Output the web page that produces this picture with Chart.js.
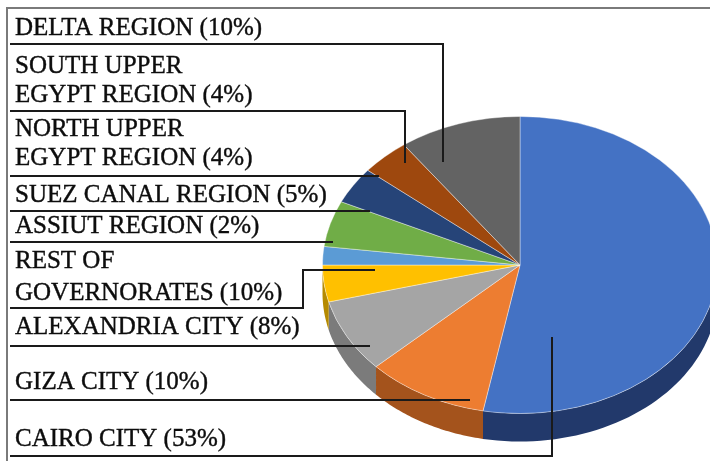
<!DOCTYPE html>
<html>
<head>
<meta charset="utf-8">
<script src="https://cdn.jsdelivr.net/npm/chart.js@4.4.0/dist/chart.umd.min.js"></script>
<style>
  html, body { margin: 0; padding: 0; background: #fff; overflow: hidden; }
  #wrap { position: relative; width: 730px; height: 470px; }
</style>
</head>
<body>
<div id="wrap"><canvas id="pie"></canvas></div>
<script>
// data, clockwise from 12 o'clock
const categories = [
  ["CAIRO CITY (53%)"],
  ["GIZA CITY (10%)"],
  ["ALEXANDRIA CITY (8%)"],
  ["REST OF", "GOVERNORATES (10%)"],
  ["ASSIUT REGION (2%)"],
  ["SUEZ CANAL REGION (5%)"],
  ["NORTH UPPER", "EGYPT REGION (4%)"],
  ["SOUTH UPPER", "EGYPT REGION (4%)"],
  ["DELTA REGION (10%)"]
];
const shares = [53, 10, 8, 4, 2, 5, 4, 4, 10];

const topColors = ["#4472C4", "#ED7D31", "#A5A5A5", "#FFC000", "#5B9BD5",
                   "#70AD47", "#264478", "#9E480E", "#636363"];
const sideColors = ["#22396b", "#a4531c", "#7b7b7b", "#b58a00", "#3f6f9b",
                    "#4f7a32", "#172b4d", "#6b2f08", "#444444"];

// label text baselines and leader paths (layout only)
const labelLayout = [
  { base: [446], path: [[10, 456], [552, 456], [552, 337]] },
  { base: [389], path: [[10, 400], [470, 400]] },
  { base: [334], path: [[10, 346], [370, 346]] },
  { base: [268, 300], path: [[10, 308], [303, 308], [303, 270], [375, 270]] },
  { base: [233], path: [[10, 242], [333, 242]] },
  { base: [202], path: [[10, 211], [370, 211]] },
  { base: [136, 165], path: [[10, 176], [379, 176]] },
  { base: [73, 102], path: [[10, 111], [405, 111], [405, 163]] },
  { base: [35], path: [[10, 44], [443, 44], [443, 162]] }
];

const tilt = 0.752;   // vertical squash of the pie
const depth = 28;     // thickness of the 3d side

const pie3d = {
  id: "pie3d",
  beforeDraw(chart) {
    const ctx = chart.ctx;
    ctx.save();
    ctx.strokeStyle = "#7a7a7a";
    ctx.lineWidth = 2;
    ctx.beginPath();
    ctx.moveTo(7, chart.height);
    ctx.lineTo(7, 8);
    ctx.lineTo(chart.width, 8);
    ctx.stroke();
    ctx.restore();
  },
  beforeDatasetsDraw(chart) {
    const ctx = chart.ctx;
    const arcs = chart.getDatasetMeta(0).data;
    ctx.save();
    arcs.forEach((arc, i) => {
      const cx = arc.x, cy = arc.y, r = arc.outerRadius;
      [[0, Math.PI], [2 * Math.PI, 3 * Math.PI]].forEach(([a, b]) => {
        const lo = Math.max(arc.startAngle, a), hi = Math.min(arc.endAngle, b);
        if (hi <= lo) return;
        const n = 48;
        ctx.beginPath();
        for (let k = 0; k <= n; k++) {
          const t = lo + (hi - lo) * k / n;
          ctx.lineTo(cx + r * Math.cos(t), cy + r * tilt * Math.sin(t));
        }
        for (let k = n; k >= 0; k--) {
          const t = lo + (hi - lo) * k / n;
          ctx.lineTo(cx + r * Math.cos(t), cy + r * tilt * Math.sin(t) + depth);
        }
        ctx.closePath();
        ctx.fillStyle = sideColors[i];
        ctx.fill();
      });
    });
    ctx.restore();
    const cy = arcs[0].y;
    ctx.save();
    ctx.translate(0, cy);
    ctx.scale(1, tilt);
    ctx.translate(0, -cy);
  },
  afterDatasetsDraw(chart) {
    const ctx = chart.ctx;
    ctx.restore();
    ctx.save();
    ctx.font = "25px 'Liberation Serif', 'Times New Roman', serif";
    ctx.fillStyle = "#0d0d0d";
    ctx.strokeStyle = "#0d0d0d";
    ctx.lineWidth = 0.4;
    ctx.textBaseline = "alphabetic";
    categories.forEach((lines, i) => {
      const lay = labelLayout[i];
      lines.forEach((txt, j) => {
        ctx.fillText(txt, 15, lay.base[j]);
        ctx.strokeText(txt, 15, lay.base[j]);
      });
    });
    ctx.strokeStyle = "#1a1a1a";
    ctx.lineWidth = 2;
    labelLayout.forEach(lay => {
      ctx.beginPath();
      lay.path.forEach(([x, y], k) => k ? ctx.lineTo(x, y) : ctx.moveTo(x, y));
      ctx.stroke();
    });
    ctx.restore();
  }
};

new Chart(document.getElementById("pie"), {
  type: "pie",
  data: {
    labels: categories.map(l => l.join(" ")),
    datasets: [{
      data: shares,
      backgroundColor: topColors,
      borderColor: "rgba(255,255,255,0.45)",
      borderWidth: 1,
      clip: false
    }]
  },
  options: {
    responsive: true,
    maintainAspectRatio: false,
    animation: false,
    layout: { padding: { left: 322, right: 12, top: 67, bottom: 7 } },
    plugins: {
      legend: { display: false },
      tooltip: { enabled: false }
    }
  },
  plugins: [pie3d]
});
</script>
</body>
</html>
